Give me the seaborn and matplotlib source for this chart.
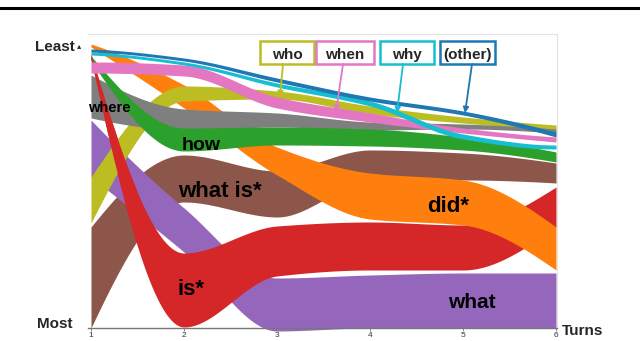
import numpy as np
import pandas as pd
import matplotlib
matplotlib.use("Agg")
import matplotlib.pyplot as plt
import seaborn as sns
from matplotlib.patches import Rectangle
from matplotlib.lines import Line2D

# ---------------- data (rank position, 0 = Most at bottom, 294 = Least at top)
turns = [1, 2, 3, 4, 5, 6]
categories = ["(other)", "did*", "how", "is*", "what", "what is*", "when", "where", "who", "why"]

other_hi = [279, 270, 250, 231, 217, 196]
other_lo = [276, 267, 246, 227, 213, 191]
did_hi = [284, 243, 181, 155, 148, 101]
did_lo = [281, 220, 153, 109, 103, 58]
how_hi = [272, 200, 201, 199, 191, 176]
how_lo = [267, 177, 183, 182, 178, 166]
is_hi = [274, 75, 102, 106, 103, 141]
is_lo = [269, 1, 52, 58, 58, 101]
what_hi = [208, 120, 50, 53, 55, 55]
what_lo = [151, 76, -3, 0, 0, 0]
whatis_hi = [101, 173, 157, 178, 175, 165]
whatis_lo = [0, 126, 111, 146, 148, 145]
when_hi = [266, 263, 231, 215, 200, 191]
when_lo = [255, 252, 220, 206, 195, 186]
where_hi = [253, 219, 215, 206, 204, 199]
where_lo = [210, 198, 201, 198, 199, 195]
who_hi = [151, 242, 237, 222, 211, 203]
who_lo = [105, 227, 229, 214, 205, 198]
why_hi = [276, 266, 245, 227, 194, 183]
why_lo = [273, 263, 241, 222, 189, 179]

legend_labels = ["who", "when", "why", "(other)"]

his = [other_hi, did_hi, how_hi, is_hi, what_hi, whatis_hi, when_hi, where_hi, who_hi, why_hi]
los = [other_lo, did_lo, how_lo, is_lo, what_lo, whatis_lo, when_lo, where_lo, who_lo, why_lo]

rows = []
for cat, hi, lo in zip(categories, his, los):
    for t, h, l in zip(turns, hi, lo):
        rows.append({"category": cat, "turn": t, "hi": h, "lo": l})
df = pd.DataFrame(rows)


def pchip(x, y, xs):
    x = np.asarray(x, float)
    y = np.asarray(y, float)
    h = np.diff(x)
    d = np.diff(y) / h
    n = len(x)
    m = np.zeros(n)
    for k in range(1, n - 1):
        if d[k - 1] * d[k] <= 0:
            m[k] = 0.0
        else:
            w1 = 2 * h[k] + h[k - 1]
            w2 = h[k] + 2 * h[k - 1]
            m[k] = (w1 + w2) / (w1 / d[k - 1] + w2 / d[k])

    def endslope(h0, h1, d0, d1):
        s = ((2 * h0 + h1) * d0 - h0 * d1) / (h0 + h1)
        if np.sign(s) != np.sign(d0):
            s = 0.0
        elif np.sign(d0) != np.sign(d1) and abs(s) > abs(3 * d0):
            s = 3 * d0
        return s

    m[0] = endslope(h[0], h[1], d[0], d[1])
    m[-1] = endslope(h[-1], h[-2], d[-1], d[-2])
    idx = np.clip(np.searchsorted(x, xs) - 1, 0, n - 2)
    t = (xs - x[idx]) / h[idx]
    h00 = 2 * t**3 - 3 * t**2 + 1
    h10 = t**3 - 2 * t**2 + t
    h01 = -2 * t**3 + 3 * t**2
    h11 = t**3 - t**2
    return h00 * y[idx] + h10 * h[idx] * m[idx] + h01 * y[idx + 1] + h11 * h[idx] * m[idx + 1]


# ---------------- style
sns.set_theme(style="white")
plt.rcParams["font.family"] = ["Liberation Sans", "DejaVu Sans"]
pal = sns.color_palette("tab10")
color = dict(zip(categories, pal))

fig = plt.figure(figsize=(6.4, 3.41), dpi=100)
ax = fig.add_axes([88 / 640, 13 / 341, 469 / 640, 294 / 341])
ax.set_xlim(1 - 3 / 93, 6 + 1 / 93)
ax.set_ylim(0, 294)

xs = np.linspace(1, 6, 600)
curves = {}
for cat in categories:
    sub = df[df.category == cat].sort_values("turn")
    curves[cat] = (pchip(sub.turn, sub.lo, xs), pchip(sub.turn, sub.hi, xs))

order = ["what is*", "what", "is*", "did*", "who", "where", "how"]
for z, cat in enumerate(order):
    lo, hi = curves[cat]
    ax.fill_between(xs, lo, hi, color=color[cat], lw=0, zorder=2 + z * 0.01, clip_on=False)

# early part of "is*" crosses over the others
lo, hi = curves["is*"]
mask = xs <= 1.5
ax.fill_between(xs[mask], lo[mask], hi[mask], color=color["is*"], lw=0, zorder=2.2)

for z, cat in enumerate(["when", "why", "(other)"]):
    lo, hi = curves[cat]
    ax.fill_between(xs, lo, hi, color=color[cat], lw=0, zorder=2.3 + z * 0.01)

# ribbon labels
lab_kw = dict(fontweight="bold", color="black", ha="left", va="baseline", zorder=5)
ax.text(0.968, 216, "where", fontsize=10.5, **lab_kw)
ax.text(1.978, 178, "how", fontsize=14, **lab_kw)
ax.text(1.935, 131, "what is*", fontsize=16, **lab_kw)
ax.text(1.935, 33, "is*", fontsize=16, **lab_kw)
ax.text(4.613, 116, "did*", fontsize=16, **lab_kw)
ax.text(4.839, 20, "what", fontsize=15, **lab_kw)

# legend boxes with arrows
box_x0 = [2.817, 3.419, 4.107, 4.753]
box_x1 = [3.398, 4.043, 4.688, 5.344]
arrow_from = [3.065, 3.71, 4.355, 5.097]
arrow_to = [(3.03, 231), (3.634, 216), (4.29, 215), (5.022, 215)]
legend_cats = ["who", "when", "why", "(other)"]
for lab, cat, x0, x1, af, at in zip(legend_labels, legend_cats, box_x0, box_x1, arrow_from, arrow_to):
    c = color[cat]
    ax.add_patch(Rectangle((x0, 264), x1 - x0, 23, fill=True, facecolor="white",
                           edgecolor=c, lw=1.8, clip_on=False, zorder=6))
    ax.text((x0 + x1) / 2, 269, lab, fontsize=11, fontweight="bold", ha="center",
            va="baseline", zorder=7)
    ax.annotate("", xy=at, xytext=(af, 264),
                arrowprops=dict(arrowstyle="-|>", color=c, lw=1.3, mutation_scale=8,
                                shrinkA=0, shrinkB=0), zorder=6)

# axes styling
ax.set_xticks(turns)
ax.set_xticklabels([str(t) for t in turns], fontsize=6, color="#333333")
ax.tick_params(axis="x", length=2, width=0.6, pad=1, color="#777777", bottom=True)
ax.set_yticks([])
ax.spines["left"].set_visible(False)
for s in ["top", "right"]:
    ax.spines[s].set_color("#e4e4e4")
    ax.spines[s].set_linewidth(0.8)
ax.spines["bottom"].set_color("#777777")
ax.spines["bottom"].set_linewidth(1.0)

fig.text(35 / 640, 1 - 51 / 341, "Least", fontsize=11, fontweight="bold", ha="left", va="baseline")
fig.text(77 / 640, 1 - 48 / 341, "▴", fontsize=6, ha="left", va="baseline", family=["DejaVu Sans"])
fig.text(37 / 640, 1 - 328 / 341, "Most", fontsize=11, fontweight="bold", ha="left", va="baseline")
fig.text(562 / 640, 1 - 335 / 341, "Turns", fontsize=11, fontweight="bold", ha="left", va="baseline")

# page rule from the source document
fig.add_artist(Line2D([0, 1], [1 - 7.5 / 341] * 2, transform=fig.transFigure, color="black", lw=2.2))

fig.savefig("out.png", dpi=100)
